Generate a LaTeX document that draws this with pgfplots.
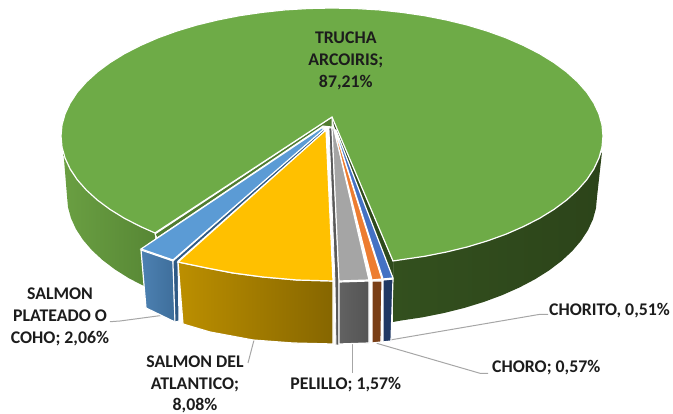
\documentclass[border=0pt]{standalone}
\usepackage{fontspec}
\setmainfont{Carlito}
\usepackage{pgfplots}
\pgfplotsset{compat=1.18}
\definecolor{lead}{HTML}{A6A6A6}
\definecolor{txt}{HTML}{1C1C1C}
\definecolor{gwl}{HTML}{6A9F42}\definecolor{gwr}{HTML}{578735}
\definecolor{dwl}{HTML}{33501E}\definecolor{dwr}{HTML}{2C441A}
\definecolor{ginr}{HTML}{2E4A1C}\definecolor{ginl}{HTML}{507C30}
\definecolor{gtop}{HTML}{6EAB47}
\definecolor{bwl}{HTML}{4D81B2}\definecolor{bwr}{HTML}{3E6E9B}
\definecolor{binn}{HTML}{2F5A85}\definecolor{btop}{HTML}{5B9BD5}
\definecolor{ywl}{HTML}{BC8F00}\definecolor{ywr}{HTML}{866600}
\definecolor{ytop}{HTML}{FFC000}
\definecolor{pinn}{HTML}{595959}\definecolor{pwl}{HTML}{626262}\definecolor{pwr}{HTML}{545454}
\definecolor{ptop}{HTML}{A5A5A5}
\definecolor{owall}{HTML}{7A3F17}\definecolor{otop}{HTML}{ED7D31}
\definecolor{cwall}{HTML}{203864}\definecolor{ctop}{HTML}{4472C4}
\tikzset{
  seg/.style={draw=white,line width=1.2pt,line join=miter},
  lab/.style={font=\bfseries\fontsize{17.8}{21.8}\selectfont,text=txt,align=center,inner sep=0pt}
}
\begin{document}
\begin{tikzpicture}
\path (0,0) rectangle (673pt,414pt);
\begin{axis}[scale only axis,width=673pt,height=414pt,xmin=0,xmax=673,ymin=0,ymax=414,y dir=reverse,axis lines=none,clip=true,at={(0,0)},anchor=south west]
% leader lines
\addplot[lead,line width=1pt] coordinates {(110,321.7)(120,321)(165,315)};
\addplot[lead,line width=1pt] coordinates {(248,363)(254,340)};
\addplot[lead,line width=1pt] coordinates {(352.7,342)(352.7,373)};
\addplot[lead,line width=1pt] coordinates {(390,340)(540,314.3)(548,314.3)};
\addplot[lead,line width=1pt] coordinates {(376.7,343.3)(480,373.3)(488,373.3)};
% green walls
\addplot[draw=none,left color=gwl,right color=gwr] coordinates {(63.5,153)(65.1,158.2)(70.2,169.1)(77.3,179.8)(86.4,190.1)(97.3,200)(110,209.4)(124.4,218.3)(140.4,226.5)(155,233)(155,291)(142,285)(129,278.3)(114.9,269.4)(102.5,260)(91.8,250.1)(83,239.8)(76,229.1)(71,218.2)(68,207.2)(67,196)} -- cycle;
\addplot[draw=none,left color=dwl,right color=dwr] coordinates {(393,261)(402.1,259.6)(424.7,256.3)(446.5,252)(467.5,246.9)(487.4,240.9)(506.2,234.1)(523.6,226.5)(539.6,218.3)(554,209.4)(566.7,200)(577.6,190.1)(586.7,179.8)(593.8,169.1)(598.9,158.2)(602,152)(597,197)(596,208.2)(593,219.2)(588,230.1)(581,240.8)(572.2,251.1)(561.5,261)(549.1,270.4)(535,279.3)(519.4,287.5)(502.3,295.1)(484,301.9)(464.5,307.9)(444,313)(422.6,317.3)(400.6,320.6)(393,322)} -- cycle;
% inner walls of the green slice
\addplot[fill=white,draw=none] coordinates {(332,117)(393,262)(393,280)(335,132)} -- cycle;
\addplot[fill=ginr,draw=none] coordinates {(332,117)(393,262)(393,277)(335,130)} -- cycle;
\addplot[fill=ginl,draw=white,line width=1pt] coordinates {(155,234)(332,117)(332,127)(323,126)(157,238)} -- cycle;
% green top
\addplot[seg,fill=gtop] coordinates {(332,117)(393,261)(402.1,259.6)(424.7,256.3)(446.5,252)(467.5,246.9)(487.4,240.9)(506.2,234.1)(523.6,226.5)(539.6,218.3)(554,209.4)(566.7,200)(577.6,190.1)(586.7,179.8)(593.8,169.1)(598.9,158.2)(602,147.2)(603,136)(602,124.8)(598.9,113.8)(593.8,102.9)(586.7,92.2)(577.6,81.9)(566.7,72)(554,62.6)(539.6,53.7)(523.6,45.5)(506.2,37.9)(487.4,31.1)(467.5,25.1)(446.5,20)(424.7,15.7)(402.1,12.4)(379.1,9.9)(355.6,8.5)(332,8)(308.4,8.5)(284.9,9.9)(261.9,12.4)(239.3,15.7)(217.5,20)(196.5,25.1)(176.6,31.1)(157.8,37.9)(140.4,45.5)(124.4,53.7)(110,62.6)(97.3,72)(86.4,81.9)(77.3,92.2)(70.2,102.9)(65.1,113.8)(62,124.8)(61,136)(62,147.2)(65.1,158.2)(70.2,169.1)(77.3,179.8)(86.4,190.1)(97.3,200)(110,209.4)(124.4,218.3)(140.4,226.5)(155,233)} -- cycle;
% salmon plateado
\addplot[draw=white,line width=1.2pt,left color=bwl,right color=bwr] coordinates {(141,250)(173,261)(175,322)(146,308)} -- cycle;
\addplot[fill=binn,draw=white,line width=1pt] coordinates {(173,261)(323,129)(325,131)(178,261)(179,321)(175,322)} -- cycle;
\addplot[seg,fill=btop] coordinates {(141,249)(323,127)(323,130)(173,260)} -- cycle;
% salmon atlantico
\addplot[draw=white,line width=1.2pt,left color=ywl,right color=ywr] coordinates {(178,262)(207,268)(233,273)(263,277)(297,280)(333,281)(333,344)(293,343)(253,340)(210,332)(183,324)} -- cycle;
\addplot[seg,fill=ytop] coordinates {(326,130)(333,281)(297,280)(263,277)(233,273)(207,268)(178,262)} -- cycle;
% inner wall pelillo
\addplot[fill=pinn,draw=white,line width=0.8pt] coordinates {(329,128)(332,128)(339,281)(339,345)(336,345)(335,281)} -- cycle;
% pelillo
\addplot[draw=white,line width=1.2pt,left color=pwl,right color=pwr] coordinates {(339,282)(369,281)(369,343)(339,344)} -- cycle;
\addplot[seg,fill=ptop] coordinates {(332,128)(339,281)(369,280)(334,128)} -- cycle;
% choro
\addplot[seg,fill=owall] coordinates {(372,281)(382,281)(381,342)(372,343)} -- cycle;
\addplot[seg,fill=otop] coordinates {(334,130)(372,280)(382,279)(335,130)} -- cycle;
% chorito
\addplot[seg,fill=cwall] coordinates {(383,280)(393,279)(391,341)(383,342)} -- cycle;
\addplot[seg,fill=ctop] coordinates {(335,130)(383,279)(393,278)(336,130)} -- cycle;
% labels
\node[lab] at (axis cs:345.8,61) {TRUCHA\\ARCOIRIS;\\87,21\%};
\node[lab] at (axis cs:60,317) {SALMON\\PLATEADO O\\COHO; 2,06\%};
\node[lab] at (axis cs:195,384.5) {SALMON DEL\\ATLANTICO;\\8,08\%};
\node[lab] at (axis cs:345.8,385) {PELILLO; 1,57\%};
\node[lab,anchor=west] at (axis cs:549,310.7) {CHORITO, 0,51\%};
\node[lab,anchor=west] at (axis cs:492,368) {CHORO; 0,57\%};
\end{axis}
\end{tikzpicture}
\end{document}
